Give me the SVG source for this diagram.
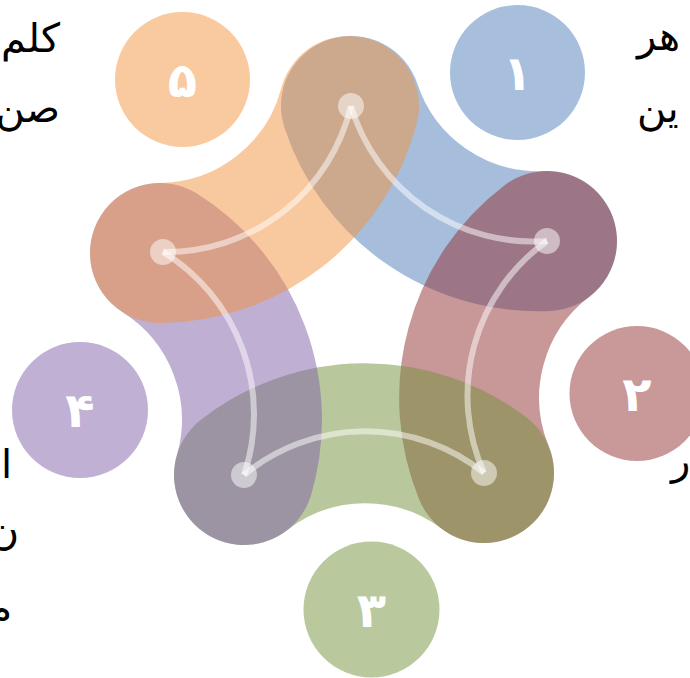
<svg xmlns="http://www.w3.org/2000/svg" width="690" height="678" viewBox="0 0 690 678">
<style>
.band{fill:none;stroke-width:140;stroke-linecap:round;opacity:0.5}
.link{fill:none;stroke:#fff;stroke-width:6;opacity:0.5}
.hub{fill:#fff;opacity:0.5}
.num{font-family:"DejaVu Sans",sans-serif;font-size:48px;font-weight:bold;fill:#fff;text-anchor:middle}
.txt{font-family:"DejaVu Sans","Noto Sans",sans-serif;font-size:40px;fill:#000}
.c1{stroke:#4f7fbb;fill:#4f7fbb}
.c2{stroke:#933133;fill:#933133}
.c3{stroke:#73933b;fill:#73933b}
.c4{stroke:#8161a9;fill:#8161a9}
.c5{stroke:#f39341;fill:#f39341}
.disc{opacity:0.5;stroke:none}
</style>
<g id="bands">
<path id="band1" class="band c1" d="M351 106 A197 197 0 0 0 547 241"/>
<path id="band2" class="band c2" d="M547 241 A197 197 0 0 0 484 473"/>
<path id="band3" class="band c3" d="M484 473 A197 197 0 0 0 244 475"/>
<path id="band4" class="band c4" d="M244 475 A197 197 0 0 0 160 253"/>
<path id="band5" class="band c5" d="M160 253 A197 197 0 0 0 349 106"/>
</g>
<g id="connectors">
<path class="link" d="M351 106 A190 190 0 0 0 547 241"/>
<path class="link" d="M547 241 A190 190 0 0 0 484 473"/>
<path class="link" d="M484 473 A190 190 0 0 0 244 475"/>
<path class="link" d="M244 475 A190 190 0 0 0 163 252"/>
<path class="link" d="M163 252 A190 190 0 0 0 351 106"/>
</g>
<g id="hubs">
<circle class="hub" cx="351" cy="106" r="13"/>
<circle class="hub" cx="547" cy="241" r="13"/>
<circle class="hub" cx="484" cy="473" r="13"/>
<circle class="hub" cx="244" cy="475" r="13"/>
<circle class="hub" cx="163" cy="252" r="13"/>
</g>
<g id="node1"><circle class="disc c1" cx="517.5" cy="72.5" r="67.5"/><text class="num" x="517.5" y="90">۱</text></g>
<g id="node2"><circle class="disc c2" cx="637" cy="393.5" r="67.5"/><text class="num" x="637" y="411">۲</text></g>
<g id="node3"><circle class="disc c3" cx="371.5" cy="609.5" r="68"/><text class="num" x="371.5" y="627">۳</text></g>
<g id="node4"><circle class="disc c4" cx="80" cy="410" r="68"/><text class="num" x="80" y="427">۴</text></g>
<g id="node5"><circle class="disc c5" cx="182.5" cy="79.5" r="67.5"/><text class="num" x="182.5" y="97">۵</text></g>
<g id="texts" class="txt">
<text x="60" y="52" direction="rtl" text-anchor="start">کلم</text>
<text x="60" y="122" direction="rtl" text-anchor="start">صن</text>
<text x="637" y="50" direction="rtl" text-anchor="end">هر</text>
<text x="637" y="122" direction="rtl" text-anchor="end">ین</text>
<text x="671" y="474" direction="rtl" text-anchor="end">ر</text>
<text x="12" y="478" direction="rtl" text-anchor="start">ا</text>
<text x="19" y="545" direction="rtl" text-anchor="start">ن</text>
<text x="12" y="622" direction="rtl" text-anchor="start">م</text>
</g>
</svg>
